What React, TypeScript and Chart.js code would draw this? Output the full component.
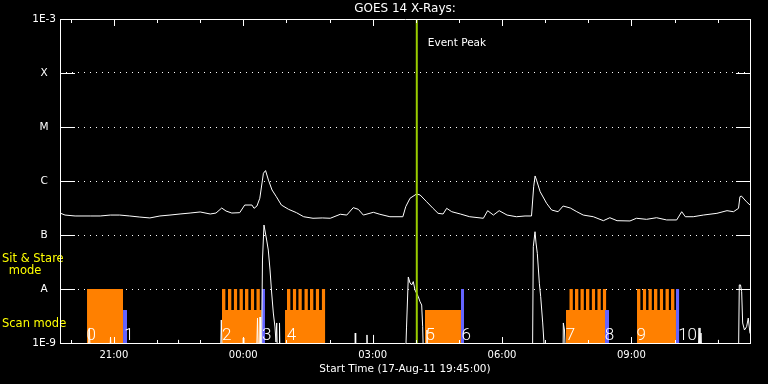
import React, { useEffect, useRef } from 'react';
import { Chart, registerables } from 'chart.js';

Chart.register(...registerables);

// ---- axis definitions ----
const xMin = 0; // minutes after 17-Aug-11 19:45:00
const xMax = 960;
const xTickValues = [75, 255, 435, 615, 795];
const xTickLabels = ['21:00', '00:00', '03:00', '06:00', '09:00'];
const xMinorTicks = [15, 135, 195, 315, 375, 495, 555, 675, 735, 855, 915];
const yTickValues = [1e-9, 1e-8, 1e-7, 1e-6, 1e-5, 1e-4, 1e-3];
const yTickLabels = ['1E-9', 'A', 'B', 'C', 'M', 'X', '1E-3'];

// ---- GOES long channel (1-8 A) ----
const longTimes = [
  0, 7, 21, 42, 56, 70, 83, 97, 111, 125, 139, 153, 167, 181, 195, 209, 217, 225, 231, 239,
  250, 257, 267, 270, 274, 278, 283, 286, 290, 295, 301, 308, 318, 329, 339, 352, 365, 376, 390, 399,
  408, 415, 422, 436, 445, 459, 477, 481, 487, 496, 501, 510, 519, 526, 533, 538, 545, 557, 570, 589,
  595, 603, 611, 622, 635, 647, 656, 659, 661, 663, 668, 677, 684, 693, 700, 710, 719, 728, 742, 756,
  765, 775, 793, 802, 816, 830, 844, 858, 865, 870, 881, 895, 914, 928, 937, 944, 946, 948, 955, 960,
];
const longFlux = [
  2.55e-7, 2.34e-7, 2.25e-7, 2.25e-7, 2.25e-7, 2.34e-7, 2.34e-7, 2.25e-7, 2.15e-7, 2.07e-7,
  2.25e-7, 2.34e-7, 2.45e-7, 2.55e-7, 2.67e-7, 2.45e-7, 2.55e-7, 3.16e-7, 2.78e-7, 2.55e-7,
  2.59e-7, 3.59e-7, 3.59e-7, 3.12e-7, 3.44e-7, 4.79e-7, 1.39e-6, 1.56e-6, 1.04e-6, 6.81e-7,
  5.12e-7, 3.59e-7, 2.99e-7, 2.59e-7, 2.18e-7, 2.04e-7, 2.07e-7, 2.04e-7, 2.42e-7, 2.34e-7,
  3.21e-7, 2.99e-7, 2.34e-7, 2.63e-7, 2.42e-7, 2.18e-7, 2.18e-7, 3.34e-7, 4.79e-7, 5.74e-7,
  5.51e-7, 4.14e-7, 3.12e-7, 2.52e-7, 2.45e-7, 3.12e-7, 2.70e-7, 2.45e-7, 2.18e-7, 2.04e-7,
  2.82e-7, 2.34e-7, 2.82e-7, 2.34e-7, 2.18e-7, 2.25e-7, 2.25e-7, 7.83e-7, 1.24e-6, 1.04e-6,
  6.34e-7, 3.86e-7, 2.90e-7, 2.70e-7, 3.44e-7, 3.16e-7, 2.70e-7, 2.34e-7, 2.18e-7, 1.84e-7,
  2.09e-7, 1.84e-7, 1.82e-7, 2.04e-7, 1.95e-7, 2.09e-7, 1.90e-7, 1.90e-7, 2.70e-7, 2.18e-7,
  2.18e-7, 2.34e-7, 2.52e-7, 2.82e-7, 2.70e-7, 3.12e-7, 5.12e-7, 5.27e-7, 4.14e-7, 3.59e-7,
];

// ---- GOES short channel (0.5-4 A); values below 1E-9 sit under the axis ----
const shortTimes = [
  0, 39.0, 40.8, 42.4, 68.9, 70.3, 71.7, 164.2, 164.9, 165.6,
  223.3, 224.4, 225.8, 254.3, 255.0, 255.7, 273.4, 274.8, 276.2, 277.6,
  278.3, 279.2, 280.3, 281.7, 283.8, 287.5, 289.8, 292.2, 294.5, 296.8,
  299.1, 300.5, 301.5, 302.6, 304.7, 305.4, 306.1, 410.4, 410.8, 411.4,
  426.4, 427.1, 427.8, 435.5, 435.9, 436.5, 480.7, 482.1, 484.6, 487.0,
  489.3, 491.5, 493.9, 498.5, 500.9, 503.2, 504.6, 505.7, 509.9, 510.6,
  511.3, 657.4, 658.5, 660.9, 662.3, 664.1, 666.9, 668.8, 671.6, 674.8,
  699.8, 700.3, 701.9, 703.3, 887.7, 889.1, 890.4, 891.8, 893.2, 915.5,
  915.9, 916.4, 944.0, 945.1, 946.8, 948.4, 949.8, 952.3, 955.3, 957.6, 960,
];
const shortFlux = [
  5e-10, 5e-10, 1.90e-9, 5e-10, 5e-10, 1.29e-9, 5e-10, 5e-10, 1.14e-9, 5e-10,
  5e-10, 2.67e-9, 5e-10, 5e-10, 1.24e-9, 5e-10, 5e-10, 2.90e-9, 5e-10, 5e-10,
  3.03e-9, 5e-10, 5e-10, 3.44e-8, 1.53e-7, 8.08e-8, 5.27e-8, 2.25e-8, 8.43e-9, 3.59e-9,
  1.98e-9, 1.04e-9, 2.35e-9, 5e-10, 5e-10, 2.35e-9, 5e-10, 5e-10, 1.53e-9, 5e-10,
  5e-10, 1.41e-9, 5e-10, 5e-10, 1.41e-9, 5e-10, 5e-10, 1.90e-9, 1.67e-8, 1.29e-8,
  1.19e-8, 1.37e-8, 9.58e-9, 7.20e-9, 5.82e-9, 5.05e-9, 2.00e-9, 5e-10, 5e-10, 1.74e-9,
  5e-10, 5e-10, 6.07e-8, 1.15e-7, 7.11e-8, 4.58e-8, 1.28e-8, 7.20e-9, 2.35e-9, 5e-10,
  5e-10, 2.35e-9, 1.74e-9, 5e-10, 5e-10, 1.90e-9, 5e-10, 1.53e-9, 5e-10, 5e-10,
  1.14e-9, 5e-10, 5e-10, 1.19e-8, 1.19e-8, 8.91e-9, 2.35e-9, 1.74e-9, 2.00e-9, 2.90e-9, 1.5e-9,
];

// ---- observation blocks (orange) ----
const modeLevel: Record<string, number> = { stare: 1e-8, scan: 4.08e-9 };
const blockStart = [37.6, 225.4, 313.0, 507.8, 704.0, 802.8];
const blockEnd = [87.7, 280.6, 368.7, 557.9, 759.7, 857.0];
const blockMode = ['stare', 'scan', 'scan', 'scan', 'scan', 'scan'];
const blockStareStarts = [
  [],
  [225.4, 233.7, 241.7, 249.5, 257.4, 265.3, 273.1],
  [315.8, 323.8, 331.5, 339.9, 347.8, 355.7, 364.1],
  [],
  [708.6, 716.5, 723.9, 731.8, 739.7, 747.5, 755.1],
  [802.8, 810.7, 818.5, 826.4, 834.3, 842.2, 850.1],
];
const stareDuration = 5.0;

// ---- markers (blue) ----
const markerStart = [87.7, 280.6, 557.9, 758.3, 857.0];
const markerEnd = [93.2, 285.2, 562.1, 763.8, 861.6];
const markerMode = ['scan', 'stare', 'stare', 'scan', 'stare'];

// ---- observation numbers ----
const obsLabels = ['0', '1', '2', '3', '4', '5', '6', '7', '8', '9', '10'];
const obsLabelTimes = [37, 89.5, 225.5, 281, 315.5, 508.5, 558.5, 703.5, 758, 802, 860];

// ---- event peak ----
const eventPeakTime = 496.4;

const FONT = "'DejaVu Sans'";

function rectDataset(label: string, x0: number, x1: number, h: number, color: string, order: number) {
  return {
    label,
    data: [
      { x: x0, y: h },
      { x: x1, y: h },
    ],
    borderColor: 'rgba(0,0,0,0)',
    borderWidth: 0,
    backgroundColor: color,
    pointRadius: 0,
    fill: 'start',
    order,
  };
}

export default function App() {
  const ref = useRef<HTMLCanvasElement | null>(null);

  useEffect(() => {
    const canvas = ref.current;
    if (!canvas) return;

    const datasets: any[] = [];

    datasets.push({
      label: 'Event Peak',
      data: [
        { x: eventPeakTime, y: yTickValues[0] },
        { x: eventPeakTime, y: yTickValues[yTickValues.length - 1] },
      ],
      borderColor: '#99cc00',
      borderWidth: 2,
      pointRadius: 0,
      fill: false,
      order: 0,
    });

    datasets.push({
      label: 'long',
      data: longTimes.map((t, i) => ({ x: t, y: longFlux[i] })),
      borderColor: '#ffffff',
      borderWidth: 1,
      pointRadius: 0,
      tension: 0,
      fill: false,
      order: 1,
    });
    datasets.push({
      label: 'short',
      data: shortTimes.map((t, i) => ({ x: t, y: shortFlux[i] })),
      borderColor: '#ffffff',
      borderWidth: 1,
      pointRadius: 0,
      tension: 0,
      fill: false,
      order: 1,
    });

    markerStart.forEach((s, i) => {
      datasets.push(rectDataset('marker' + i, s, markerEnd[i], modeLevel[markerMode[i]], '#6464ff', 4));
    });

    blockStart.forEach((s, i) => {
      datasets.push(rectDataset('block' + i, s, blockEnd[i], modeLevel[blockMode[i]], '#ff8000', 5));
      blockStareStarts[i].forEach((ts, j) => {
        datasets.push(rectDataset(`stare${i}_${j}`, ts, ts + stareDuration, modeLevel.stare, '#ff8000', 5));
      });
    });

    const framePlugin = {
      id: 'frame',
      afterDraw(chart: any) {
        const { ctx, chartArea } = chart;
        const xs = chart.scales.x;
        const ys = chart.scales.y;
        const { left, right, top, bottom } = chartArea;
        ctx.save();
        ctx.strokeStyle = '#ffffff';
        ctx.lineWidth = 1;
        ctx.beginPath();
        ctx.rect(left + 0.5, top + 0.5, right - left, bottom - top);
        yTickValues.forEach((v) => {
          const py = Math.round(ys.getPixelForValue(v)) + 0.5;
          ctx.moveTo(left, py);
          ctx.lineTo(left + 15, py);
          ctx.moveTo(right + 1, py);
          ctx.lineTo(right - 14, py);
        });
        const xt = (v: number, len: number) => {
          const px = Math.round(xs.getPixelForValue(v)) + 0.5;
          ctx.moveTo(px, top);
          ctx.lineTo(px, top + len);
          ctx.moveTo(px, bottom + 1);
          ctx.lineTo(px, bottom + 1 - len);
        };
        xTickValues.forEach((v) => xt(v, 7));
        xMinorTicks.forEach((v) => xt(v, 4));
        ctx.stroke();
        ctx.restore();
      },
    };

    const textPlugin = {
      id: 'texts',
      afterDatasetsDraw(chart: any) {
        const { ctx } = chart;
        const xs = chart.scales.x;
        const ys = chart.scales.y;
        ctx.save();
        ctx.fillStyle = '#ffffff';
        ctx.font = `300 17px Roboto`;
        ctx.textAlign = 'left';
        ctx.textBaseline = 'alphabetic';
        const by = ys.getPixelForValue(yTickValues[0]) - 3;
        obsLabels.forEach((l, i) => {
          ctx.fillText(l, xs.getPixelForValue(obsLabelTimes[i]), by);
        });
        ctx.font = `10.5px ${FONT}`;
        ctx.textBaseline = 'middle';
        ctx.fillText('Event Peak', xs.getPixelForValue(eventPeakTime) + 11, 43);
        ctx.fillStyle = '#ffff00';
        ctx.font = `11.5px ${FONT}`;
        ctx.fillText('Sit & Stare', 2, 259);
        ctx.textAlign = 'center';
        ctx.fillText('mode', 25, 271);
        ctx.textAlign = 'left';
        ctx.fillText('Scan mode', 2, 324);
        ctx.restore();
      },
    };

    const chart = new Chart(canvas, {
      type: 'line',
      data: { datasets },
      options: {
        animation: false,
        responsive: false,
        maintainAspectRatio: false,
        events: [],
        layout: { padding: { left: 0, right: 18, top: 0, bottom: 0 } },
        plugins: {
          legend: { display: false },
          tooltip: { enabled: false },
          title: {
            display: true,
            text: 'GOES 14 X-Rays:',
            color: '#ffffff',
            fullSize: false,
            font: { family: FONT, size: 12, weight: 'normal', lineHeight: 1.2 },
            padding: { top: 2, bottom: 2.6 },
          },
        },
        scales: {
          x: {
            type: 'linear',
            min: xMin,
            max: xMax,
            afterFit: (s: any) => {
              s.height = 41;
            },
            afterBuildTicks: (s: any) => {
              s.ticks = xTickValues.map((v) => ({ value: v }));
            },
            ticks: {
              color: '#ffffff',
              font: { family: FONT, size: 10 },
              padding: 6,
              maxRotation: 0,
              autoSkip: false,
              callback: (v: any) => {
                const i = xTickValues.indexOf(Number(v));
                return i >= 0 ? xTickLabels[i] : '';
              },
            },
            grid: { display: false, drawTicks: false },
            border: { display: false },
            title: {
              display: true,
              text: 'Start Time (17-Aug-11 19:45:00)',
              color: '#ffffff',
              font: { family: FONT, size: 10.5 },
              padding: { top: 0, bottom: 8 },
            },
          },
          y: {
            type: 'logarithmic',
            min: yTickValues[0],
            max: yTickValues[yTickValues.length - 1],
            afterFit: (s: any) => {
              s.width = 60;
            },
            afterBuildTicks: (s: any) => {
              s.ticks = yTickValues.map((v) => ({ value: v }));
            },
            ticks: {
              color: '#ffffff',
              font: { family: FONT, size: 10.5 },
              padding: 4,
              crossAlign: 'center',
              autoSkip: false,
              callback: (v: any) => {
                const i = yTickValues.findIndex((t) => Math.abs(Math.log10(t) - Math.log10(Number(v))) < 1e-6);
                return i >= 0 ? yTickLabels[i] : '';
              },
            },
            grid: { color: '#ffffff', lineWidth: 1, drawTicks: false },
            border: { display: false, dash: [1, 5] },
          },
        },
      } as any,
      plugins: [framePlugin, textPlugin],
    });

    return () => chart.destroy();
  }, []);

  return (
    <div style={{ position: 'fixed', left: 0, top: 0, width: 768, height: 384, background: '#000' }}>
      <canvas ref={ref} width={768} height={384} style={{ width: 768, height: 384, display: 'block' }} />
    </div>
  );
}
